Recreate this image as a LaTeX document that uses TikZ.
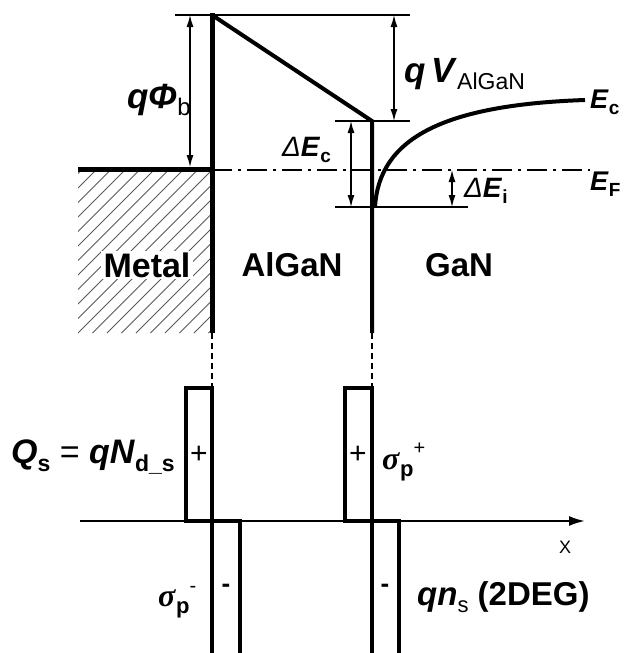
\documentclass[tikz,border=0pt]{standalone}
\usepackage{fontspec}
\setmainfont{Liberation Sans}
\newfontfamily\serifgr{Liberation Serif}
\usetikzlibrary{arrows.meta}
\newcommand{\fs}[1]{\fontsize{#1}{#1}\selectfont}
\newcommand{\dn}[2]{\raisebox{-0.22em}{\fs{#1}#2}}
\newcommand{\up}[2]{\raisebox{0.45em}{\fs{#1}#2}}
\newcommand{\bi}[1]{\textbf{\textit{#1}}}
\begin{document}
\begin{tikzpicture}[x=1pt,y=-1pt,
  thickline/.style={line width=5pt},
  thinline/.style={line width=1.2pt},
  dim/.style={line width=1.3pt,{Latex[length=12pt,width=7pt]}-{Latex[length=12pt,width=7pt]}},
  chargebox/.style={line width=4pt},
  lbl/.style={inner sep=0pt},
  guide/.style={line width=1.5pt,dash pattern=on 6pt off 4pt}]
\clip (0,0) rectangle (624,653);
% key points
\coordinate (Ltop) at (212,13);
\coordinate (Lbot) at (212,333);
\coordinate (Rtop) at (372,121);
\coordinate (Rbot) at (372,333);
\coordinate (Mleft) at (78,169);
\coordinate (Mint) at (212,169);
\coordinate (TopA) at (175,15);
\coordinate (TopB) at (410,15);
\coordinate (MidA) at (335,121);
\coordinate (MidB) at (410,121);
\coordinate (BotA) at (335,207);
\coordinate (BotB) at (468,207);
\coordinate (PhiT) at (190,15);
\coordinate (PhiB) at (190,167);
\coordinate (VT) at (394,15);
\coordinate (VB) at (394,121);
\coordinate (DcT) at (351,121);
\coordinate (DcB) at (351,207);
\coordinate (DiT) at (452,170);
\coordinate (DiB) at (452,207);
\coordinate (EFa) at (212,170);
\coordinate (EFb) at (590,170);
\coordinate (EcA) at (375,207);
\coordinate (EcB) at (585,100);
% hatch
\begin{scope}
\clip (78,171) rectangle (210,333);
\foreach \i in {-12,...,12} {
  \draw[black!65,line width=0.9pt] (78+\i*14.5,333) -- (78+\i*14.5+170,163);
}
\end{scope}
% band lines
\draw[thickline] (Mleft) -- (Mint);
\draw[thickline] (Ltop) -- (Lbot);
\draw[line width=4pt,line join=miter] (212,15) -- (Rtop) -- (Rbot);
\draw[thinline] (TopA) -- (TopB);
\draw[thinline] (MidA) -- (MidB);
\draw[thinline] (BotA) -- (BotB);
\draw[line width=2pt,dash pattern=on 20pt off 6pt on 3pt off 6pt] (EFa) -- (EFb);
\draw[line width=4pt] (EcA) .. controls (379,140) and (440,105) .. (EcB);
% dimension arrows
\draw[dim] (PhiT) -- (PhiB);
\draw[dim] (VT) -- (VB);
\draw[dim] (DcT) -- (DcB);
\draw[dim] (DiT) -- (DiB);
% guides
\coordinate (Lg) at (212,388);
\coordinate (Rg) at (372,388);
\draw[guide] (Lbot) -- (Lg);
\draw[guide] (Rbot) -- (Rg);
% charge boxes
\draw[chargebox] (186,388) rectangle (212,521);
\draw[chargebox] (212,521) rectangle (240,700);
\draw[chargebox] (345,388) rectangle (372,521);
\draw[chargebox] (372,521) rectangle (399,700);
\coordinate (AxA) at (80,521);
\coordinate (AxB) at (585,521);
\draw[line width=2pt,-{Latex[length=16pt,width=10pt]}] (AxA) -- (AxB);
% labels
\node[lbl,anchor=west] (phib) at (127,100) {\fs{35}\bi{q}\bi{Φ}\dn{24}{b}};
\node[lbl,anchor=west] (valgan) at (404,74) {\fs{35}\bi{q}\,\bi{V}\dn{23}{AlGaN}};
\node[lbl,anchor=west] (ec) at (590,102) {\fs{27}\bi{E}\dn{19}{\textbf{c}}};
\node[lbl,anchor=west] (ef) at (590,184) {\fs{27}\bi{E}\dn{19}{\textbf{F}}};
\node[lbl,anchor=west] (dei) at (464,191) {\fs{28}\textit{Δ}\bi{E}\dn{19}{\textbf{i}}};
\node[lbl,anchor=west] (dec) at (282,150) {\fs{28}\textit{Δ}\bi{E}\dn{19}{\textbf{c}}};
\node[lbl,fill=white,inner xsep=3pt,inner ysep=2pt] (metal) at (147,265) {\fs{34}\textbf{Metal}};
\node[lbl] (algan) at (292,265) {\fs{33}\textbf{AlGaN}};
\node[lbl] (gan) at (459,265) {\fs{33}\textbf{GaN}};
\node[lbl,anchor=west] (qs) at (11,457) {\fs{34}\bi{Q}\dn{23}{\textbf{s}} = \bi{qN}\dn{23}{\textbf{d\_s}}};
\node[lbl] (p1) at (199,455) {\fs{30}+};
\node[lbl] (p2) at (358,455) {\fs{30}+};
\node[lbl] (m1) at (226,588) {\fs{26}\textbf{-}};
\node[lbl] (m2) at (385,588) {\fs{26}\textbf{-}};
\node[lbl,anchor=west] (sigp) at (382,462) {\fs{32}{\serifgr\textbf{\textit{σ}}}\dn{22}{\textbf{p}}\up{20}{+}};
\node[lbl,anchor=west] (sigm) at (158,602) {\fs{32}{\serifgr\textbf{\textit{σ}}}\dn{22}{\textbf{p}}\up{20}{-}};
\node[lbl,anchor=west] (ns) at (417,597) {\fs{33}\bi{qn}\dn{22}{s} \textbf{(2DEG)}};
\node[lbl,anchor=west] (xl) at (559,547) {\fs{18}X};
\end{tikzpicture}
\end{document}
